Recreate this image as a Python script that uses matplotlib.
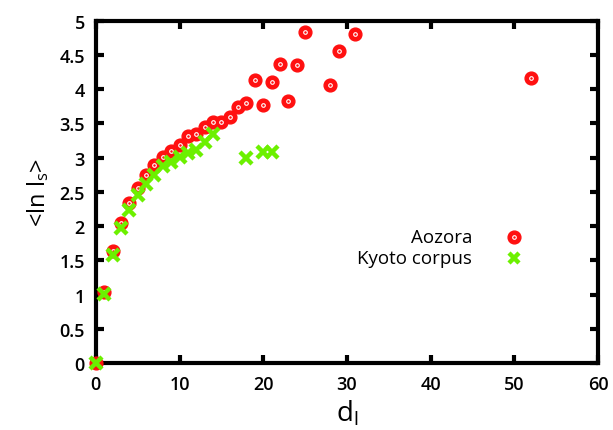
import matplotlib
matplotlib.use("Agg")
import matplotlib.pyplot as plt

plt.rcParams['font.family'] = ['Open Sans', 'DejaVu Sans']
plt.rcParams['mathtext.default'] = 'regular'

aozora_d = [0, 1, 2, 3, 4, 5, 6, 7, 8, 9, 10, 11, 12, 13, 14, 15, 16, 17, 18,
            19, 20, 21, 22, 23, 24, 25, 28, 29, 31, 52]
aozora_v = [0.0, 1.04, 1.63, 2.04, 2.34, 2.56, 2.74, 2.89, 3.01, 3.10, 3.19, 3.31,
            3.35, 3.44, 3.52, 3.52, 3.60, 3.74, 3.80, 4.14, 3.77, 4.11, 4.37, 3.82,
            4.35, 4.84, 4.06, 4.55, 4.80, 4.16]

kyoto_d = [0, 1, 2, 3, 4, 5, 6, 7, 8, 9, 10, 11, 12, 13, 14, 18, 20, 21]
kyoto_v = [0.0, 1.01, 1.58, 1.97, 2.24, 2.45, 2.61, 2.75, 2.88, 2.94, 3.01, 3.07,
           3.11, 3.23, 3.34, 2.99, 3.08, 3.08]

xticks = [0, 10, 20, 30, 40, 50, 60]
yticks = [0, 0.5, 1, 1.5, 2, 2.5, 3, 3.5, 4, 4.5, 5]
ytick_labels = ['0', '0.5', '1', '1.5', '2', '2.5', '3', '3.5', '4', '4.5', '5']

red = '#ff1010'
green = '#6cf000'

fig = plt.figure(figsize=(6.13, 4.31), dpi=100)
ax = fig.add_axes([0.1563, 0.1555, 0.8192, 0.7942])

ax.plot(aozora_d, aozora_v, linestyle='none', marker='o', markersize=9.2,
        markerfacecolor=red, markeredgecolor=red, clip_on=False, zorder=5)
ax.plot(aozora_d, aozora_v, linestyle='none', marker='o', markersize=2.6,
        markerfacecolor='none', markeredgecolor='white', markeredgewidth=0.8,
        clip_on=False, zorder=6)
ax.plot(kyoto_d, kyoto_v, linestyle='none', marker='x', markersize=8.5,
        markeredgecolor=green, markeredgewidth=3.2, clip_on=False, zorder=7)

ax.set_xlim(0, 60)
ax.set_ylim(0, 5)
ax.set_xticks(xticks)
ax.set_yticks(yticks)
ax.set_yticklabels(ytick_labels)

for s in ax.spines.values():
    s.set_linewidth(3)
ax.tick_params(direction='in', length=6, width=3, top=True, right=True,
               labelsize=13, pad=9)
ax.tick_params(axis='y', pad=8)
for lbl in ax.get_xticklabels() + ax.get_yticklabels():
    lbl.set_fontweight('semibold')

ax.set_xlabel('d$_l$', fontsize=20, labelpad=3, fontweight='medium')
ax.set_ylabel('<ln l$_s$>', fontsize=17, labelpad=6, fontweight='medium')

# legend
lx_text = 472 / 613
lx_mark = 514 / 613
ly1 = 1 - 238 / 431
ly2 = 1 - 259 / 431
fig.text(lx_text, ly1, 'Aozora', ha='right', va='center', fontsize=13.5, fontweight='medium')
fig.text(lx_text, ly2, 'Kyoto corpus', ha='right', va='center', fontsize=13.5, fontweight='medium')
fig.lines.append(plt.Line2D([lx_mark], [ly1], transform=fig.transFigure, marker='o',
                            markersize=9.2, color=red, linestyle='none'))
fig.lines.append(plt.Line2D([lx_mark], [ly1], transform=fig.transFigure, marker='o',
                            markersize=2.6, markerfacecolor='none', markeredgecolor='white',
                            markeredgewidth=0.8, linestyle='none'))
fig.lines.append(plt.Line2D([lx_mark], [ly2], transform=fig.transFigure, marker='x',
                            markersize=7.5, markeredgecolor=green, markeredgewidth=3.2,
                            linestyle='none'))

fig.savefig('out.png', dpi=100)
